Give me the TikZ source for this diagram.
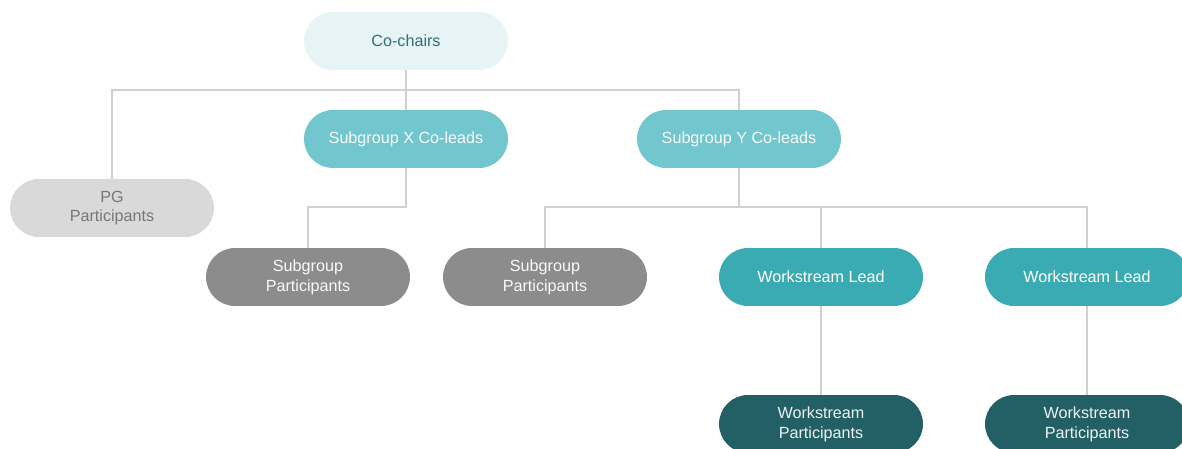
\documentclass[tikz,border=0pt]{standalone}
\usepackage{fontspec}
\setmainfont{Liberation Sans}
\usetikzlibrary{positioning}

\definecolor{chairfill}{HTML}{E6F4F6}
\definecolor{chairtext}{HTML}{2F6F75}
\definecolor{leadfill}{HTML}{72C6CD}
\definecolor{pgfill}{HTML}{D9D9D9}
\definecolor{pgtext}{HTML}{777777}
\definecolor{subfill}{HTML}{8C8C8C}
\definecolor{wsfill}{HTML}{3AAAB3}
\definecolor{wspfill}{HTML}{226066}
\definecolor{linkgray}{HTML}{D0D0D0}

\tikzset{
  pill/.style={rectangle, rounded corners=0.58cm, minimum width=4.08cm,
    minimum height=1.16cm, align=center, inner sep=0pt,
    font=\fontsize{9.2}{11.3}\selectfont},
  chair/.style={pill, fill=chairfill, text=chairtext},
  colead/.style={pill, fill=leadfill, text=white!94!leadfill},
  pgbox/.style={pill, fill=pgfill, text=pgtext},
  subbox/.style={pill, fill=subfill, text=white!95!subfill},
  wslead/.style={pill, fill=wsfill, text=white},
  wspart/.style={pill, fill=wspfill, text=white!92!wspfill},
  link/.style={draw=linkgray, line width=1.1pt}
}

\begin{document}
\begin{tikzpicture}[x=0.02cm, y=-0.02cm]
\useasboundingbox (0,0) rectangle (1182,449);
% Draw nodes
\node[chair]  (cochairs) at (406,41)  {Co-chairs};
\node[colead] (colx)     at (406,139) {Subgroup X Co-leads};
\node[colead] (coly)     at (739,139) {Subgroup Y Co-leads};
\node[pgbox]  (pg)       at (112,208) {PG\\Participants};
\node[subbox] (subx)     at (308,277) {Subgroup\\Participants};
\node[subbox] (suby)     at (545,277) {Subgroup\\Participants};
\node[wslead] (leada)    at (821,277) {Workstream Lead};
\node[wslead] (leadb)    at (1087,277) {Workstream Lead};
\node[wspart] (parta)    at (821,424) {Workstream\\Participants};
\node[wspart] (partb)    at (1087,424) {Workstream\\Participants};
% Draw junctions
\coordinate (top) at (406,90);
\coordinate (midx) at (406,207);
\coordinate (midy) at (739,207);
% Draw connectors
\draw[link] (cochairs.south) -- (colx.north);
\draw[link] (pg.north) |- (top) -| (coly.north);
\draw[link] (colx.south) -- (midx) -| (subx.north);
\draw[link] (coly.south) -- (midy);
\draw[link] (suby.north) |- (midy) -| (leadb.north);
\draw[link] (leada.north) -- (leada.north |- midy);
\draw[link] (leada.south) -- (parta.north);
\draw[link] (leadb.south) -- (partb.north);
\end{tikzpicture}
\end{document}
